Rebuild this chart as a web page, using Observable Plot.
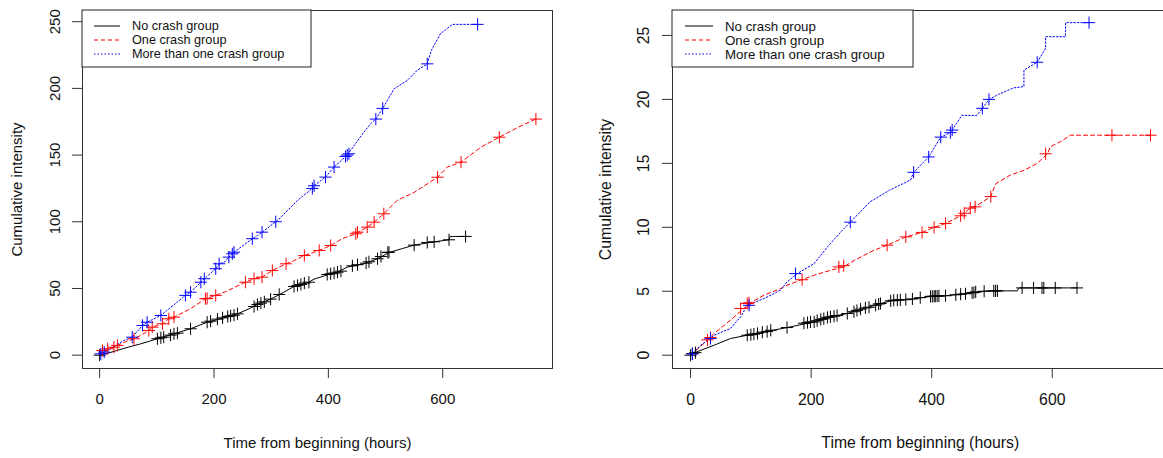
<!DOCTYPE html>
<html>
<head>
<meta charset="utf-8">
<script src="https://cdn.jsdelivr.net/npm/d3@7"></script>
<script src="https://cdn.jsdelivr.net/npm/@observablehq/plot@0.6"></script>
<style>
  html, body { margin: 0; padding: 0; background: #fff; }
  body { width: 1163px; height: 458px; overflow: hidden; position: relative; font-family: "Liberation Sans", Arial, sans-serif; }
  #left { position: absolute; left: 0; top: 0; width: 581px; }
  #right { position: absolute; left: 581px; top: 0; width: 600px; }
  svg { max-width: none !important; }
</style>
</head>
<body>
<div id="left"></div>
<div id="right"></div>
<script>
// ---------- data ----------
const groups = ["No crash group", "One crash group", "More than one crash group"];
const xTicks = [0, 200, 400, 600];
const yTicksLeft = [0, 50, 100, 150, 200, 250];
const yTicksRight = [0, 5, 10, 15, 20, 25];
const xLabel = "Time from beginning (hours)";
const yLabel = "Cumulative intensity";

// Left panel — No crash group
const L0_t = [0,15,30,50,72,101,130,159,188,217,241,260,276,299,317,340,366,375,404,416,433,462,486,506,530,550,585,611,613,640];
const L0_v = [0,1.5,3.5,6,8.5,12.3,16,19.8,24.7,28,31,34.5,38,42,46,51.5,54.7,57,61,62.2,66,68.5,72.3,77,80,82.5,85,86.5,89,89];
const L0_ct = [0,101,107,112,124,130,136,159,188,194,206,215,224,229,235,241,270,276,282,288,299,314,340,346,352,358,366,398,404,410,416,422,442,451,466,471,486,492,504,506,550,573,585,611,640];
const L0_cv = [0,12.3,13,13.5,15,16,16.5,19.8,24.7,25.5,27,28,29,29.5,30,31,36.5,38,39,40,42,45.5,51.5,52.3,53,54,54.7,60.5,61,61.5,62.2,63,67,67.8,69,70,72.3,74,77,77.2,82.5,84.5,85,86.5,89];
// Left panel — One crash group
const L1_t = [0,5,14,25,31,43,60,72,86,92,101,110,121,130,159,185,203,218,255,270,284,302,326,334,358,384,404,424,448,468,480,497,520,550,591,608,632,667,699,737,763];
const L1_v = [0,3.5,4.8,6,7.3,9.7,12.3,14.8,18.5,21,22.3,23.5,27.3,28.5,34.8,42.3,44.8,47.2,54.7,57.3,58.5,63.5,68.5,69.7,74.7,78.5,82.2,87.3,91,96,99.7,106,116,122,133.4,141,144.7,156,163.4,172,177];
const L1_ct = [5,14,25,31,60,86,92,110,121,130,185,188,203,255,270,284,302,326,358,384,404,448,451,468,480,497,591,632,699,763];
const L1_cv = [3.5,4.8,6,7.3,12.3,18.5,21,23.5,27.3,28.5,42.3,42.5,44.8,54.7,57.3,58.5,63.5,68.5,74.7,78.5,82.2,91,92.2,96,99.7,106,133.4,144.7,163.4,177];
// Left panel — More than one crash group
const L2_t = [0,2,8,20,42,57,75,83,101,107,150,159,177,183,203,209,218,226,235,267,276,284,308,317,346,372,375,395,410,433,460,474,483,495,515,538,555,573,580,596,617,661];
const L2_v = [0,1,2.3,5,11,13.5,22.3,24.7,28.5,29.8,44.8,47.2,54.7,57.3,64.8,68.5,69.7,73.5,77.2,87.3,89.7,92.2,100,103.4,116,125,127,133.5,141,150,166,173.5,177,185,199.7,206,213.4,218.4,228.4,241,248,248];
const L2_ct = [2,8,57,75,83,107,150,159,177,183,203,209,226,232,235,267,284,308,372,375,395,410,430,433,436,483,495,573,661];
const L2_cv = [1,2.3,13.5,22.3,24.7,29.8,44.8,47.2,54.7,57.3,64.8,68.5,73.5,76,77.2,87.3,92.2,100,125,127,133.5,141,149,150,151,177,185,218.4,248];

// Right panel — No crash group
const R0_t = [0,3,39,66,94,122,160,205,232,260,287,315,337,365,392,420,448,470,492,542,545,641];
const R0_v = [0,0.13,0.78,1.3,1.56,1.82,2.16,2.6,3.0,3.26,3.65,4.04,4.3,4.35,4.56,4.64,4.77,4.9,5.03,5.03,5.26,5.26];
const R0_ct = [0,3,8,94,100,105,111,119,127,133,160,188,194,199,205,210,216,221,227,232,238,243,260,271,276,282,290,296,307,312,315,332,337,343,348,357,368,381,398,401,404,406,409,412,423,440,448,456,467,470,473,487,503,506,509,550,569,583,586,605,641];
const R0_cv = [0,0.13,0.2,1.56,1.6,1.65,1.7,1.8,1.85,1.95,2.16,2.5,2.55,2.6,2.6,2.7,2.8,2.85,2.95,3.0,3.05,3.1,3.26,3.4,3.5,3.6,3.7,3.75,3.9,4.0,4.04,4.25,4.3,4.3,4.33,4.35,4.4,4.5,4.6,4.6,4.6,4.62,4.62,4.63,4.65,4.72,4.77,4.8,4.88,4.9,4.95,5.0,5.03,5.03,5.03,5.26,5.26,5.26,5.26,5.26,5.26];
// Right panel — One crash group
const R1_t = [0,28,39,66,88,100,122,149,160,182,205,232,254,271,304,326,357,384,404,423,448,464,475,498,506,531,553,575,592,597,614,630,763];
const R1_v = [0,1.17,1.7,2.73,3.65,4.1,4.7,5.2,5.47,5.86,6.25,6.64,6.9,7.4,8.2,8.6,9.25,9.6,10.0,10.3,10.9,11.5,11.7,12.4,13.4,14.1,14.45,15.0,15.75,16.3,16.7,17.2,17.2];
const R1_ct = [28,33,83,94,97,185,246,254,326,357,384,404,423,448,454,464,472,498,589,699,763];
const R1_cv = [1.2,1.38,3.65,4.04,4.1,5.9,6.9,7.0,8.6,9.25,9.6,10.0,10.3,10.9,11.1,11.5,11.6,12.4,15.75,17.2,17.2];
// Right panel — More than one crash group
const R2_t = [0,17,39,66,83,94,122,149,160,177,205,227,249,265,298,330,365,370,395,415,431,434,450,475,484,495,511,536,553,553,575,589,589,622,622,661];
const R2_v = [0,0.78,1.56,2.08,3.0,3.9,4.43,5.08,5.73,6.38,7.16,8.46,9.63,10.4,12,12.9,13.7,14.3,15.5,17.05,17.4,17.6,18.75,18.75,19.3,20,20.4,20.9,21,22.3,22.9,24,24.9,24.9,26,26];
const R2_ct = [3,33,97,174,265,370,395,415,431,434,484,495,575,661];
const R2_cv = [0.1,1.3,3.9,6.38,10.4,14.3,15.5,17.05,17.4,17.6,19.3,20,22.9,26];

// ---------- styling ----------
const colors = ["#000000", "#ff0000", "#0000ff"];
const dashes = [null, "4,3", "1.5,2"];
const FONT = "'Liberation Sans', Arial, sans-serif";

function rows(t, v) { return t.map((d, i) => ({t: d, v: v[i]})); }

function panel(cfg) {
  const marks = [
    Plot.axisX({ticks: xTicks, tickSize: 10, tickFormat: () => "", label: null, stroke: "#333"}),
    Plot.axisY({ticks: cfg.yTicks, tickSize: 10, tickFormat: () => "", label: null, stroke: "#333"}),
    Plot.text(xTicks, {x: d => d, frameAnchor: "bottom", dy: cfg.xtickDy, text: d => String(d), fontSize: cfg.fs, fill: "#111"}),
    Plot.text(cfg.yTicks, {y: d => d, frameAnchor: "left", dx: cfg.ytickDx, rotate: -90, textAnchor: "middle", text: d => String(d), fontSize: cfg.fs, fill: "#111"}),
    Plot.text([xLabel], {frameAnchor: "bottom", dy: cfg.xlabDy, text: d => d, fontSize: cfg.fs, fill: "#111"}),
    Plot.text([yLabel], {frameAnchor: "left", dx: cfg.ylabDx, rotate: -90, textAnchor: "middle", text: d => d, fontSize: cfg.fs, fill: "#111"}),
    Plot.frame({stroke: "#333", strokeWidth: 1})
  ];
  cfg.curves.forEach((c, i) => {
    marks.push(Plot.line(rows(c[0], c[1]), {x: "t", y: "v", curve: "linear", stroke: colors[i], strokeWidth: 1, strokeDasharray: dashes[i]}));
  });
  cfg.curves.forEach((c, i) => {
    marks.push(Plot.dot(rows(c[2], c[3]), {x: "t", y: "v", symbol: "plus", r: cfg.r, stroke: colors[i], strokeWidth: 1}));
  });
  const svg = Plot.plot({
    width: cfg.width,
    height: 458,
    marginLeft: cfg.marginLeft,
    marginRight: cfg.marginRight,
    marginTop: 10,
    marginBottom: 90,
    style: {fontFamily: FONT, background: "white", color: "#111", overflow: "visible"},
    x: {domain: [-30, 792]},
    y: {domain: cfg.yDomain},
    marks
  });
  svg.style.maxWidth = "none";
  // legend (top-left corner of the frame)
  const g = d3.select(svg).append("g");
  const x0 = cfg.marginLeft, y0 = 10;
  g.append("rect").attr("x", x0).attr("y", y0).attr("width", cfg.legendW).attr("height", 57)
    .attr("fill", "white").attr("stroke", "#222").attr("stroke-width", 1);
  groups.forEach((name, i) => {
    const yy = y0 + 16 + i * 14;
    g.append("line").attr("x1", x0 + cfg.lgSample[0]).attr("x2", x0 + cfg.lgSample[1])
      .attr("y1", yy).attr("y2", yy).attr("stroke", colors[i]).attr("stroke-width", 1)
      .attr("stroke-dasharray", dashes[i]);
    g.append("text").attr("x", x0 + cfg.lgText).attr("y", yy).attr("dy", "0.35em")
      .attr("text-anchor", "start").attr("font-family", FONT).attr("font-size", cfg.lgFs)
      .attr("fill", "#111").text(name);
  });
  return svg;
}

document.getElementById("left").appendChild(panel({
  width: 581, marginLeft: 82, marginRight: 29,
  yDomain: [-10, 258.4], yTicks: yTicksLeft, fs: 15, r: 4,
  xtickDy: 35, xlabDy: 79, ytickDx: -27, ylabDx: -65,
  legendW: 229, lgSample: [12, 38], lgText: 50, lgFs: 12.7,
  curves: [[L0_t, L0_v, L0_ct, L0_cv], [L1_t, L1_v, L1_ct, L1_cv], [L2_t, L2_v, L2_ct, L2_cv]]
}));
document.getElementById("right").appendChild(panel({
  width: 600, marginLeft: 91, marginRight: 13.5,
  yDomain: [-1.04, 26.95], yTicks: yTicksRight, fs: 15.8, r: 4,
  xtickDy: 36, xlabDy: 79, ytickDx: -29, ylabDx: -67,
  legendW: 241, lgSample: [13, 41], lgText: 53, lgFs: 13.3,
  curves: [[R0_t, R0_v, R0_ct, R0_cv], [R1_t, R1_v, R1_ct, R1_cv], [R2_t, R2_v, R2_ct, R2_cv]]
}));
</script>
</body>
</html>
